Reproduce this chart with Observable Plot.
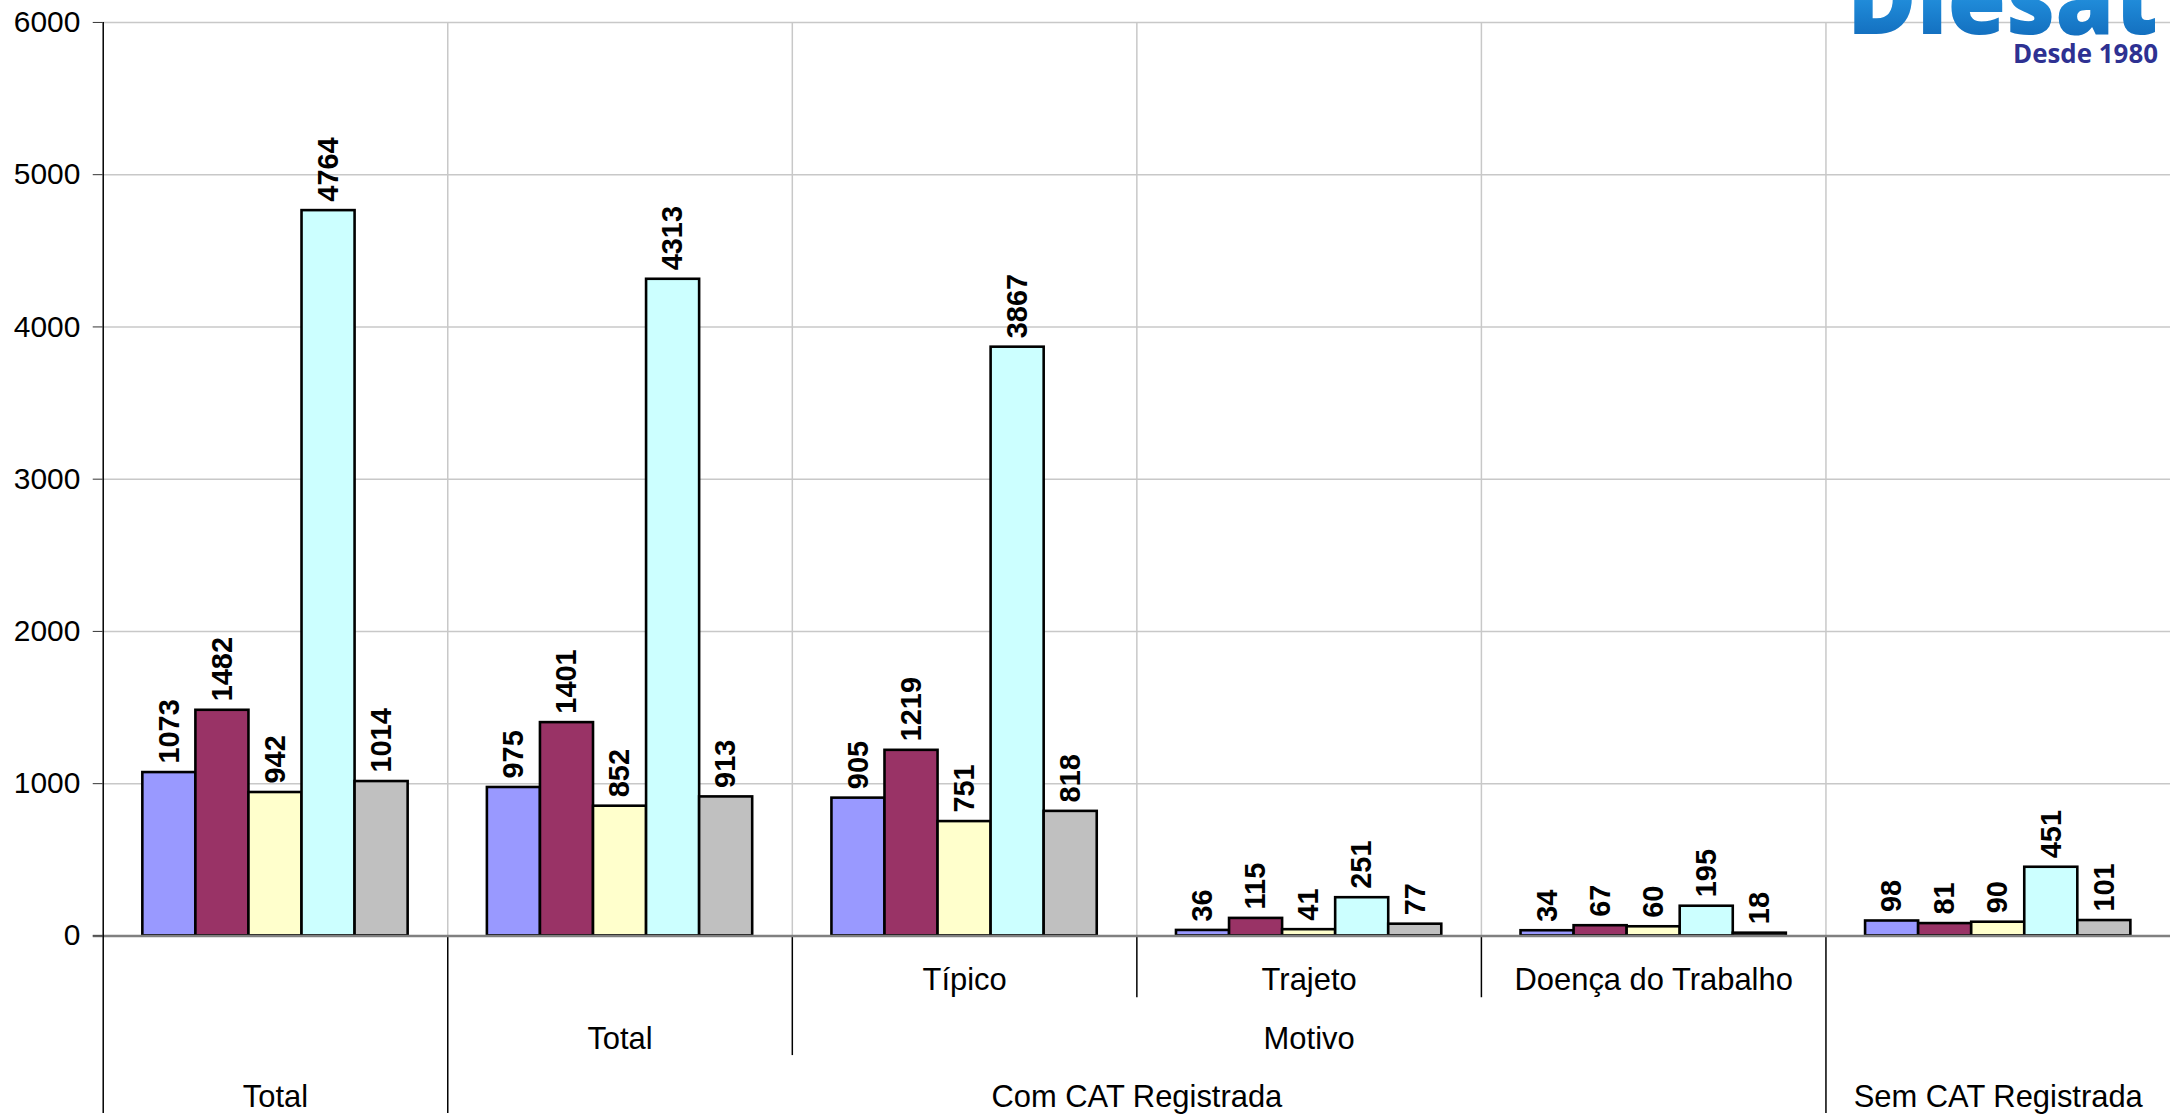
<!DOCTYPE html>
<html>
<head>
<meta charset="utf-8">
<script src="https://cdn.jsdelivr.net/npm/d3@7"></script>
<script src="https://cdn.jsdelivr.net/npm/@observablehq/plot@0.6"></script>
<style>
html, body { margin: 0; padding: 0; background: #fff; overflow: hidden; }
#wrap { position: relative; width: 2170px; height: 1116px; overflow: hidden; background: #fff; }
#logo { position: absolute; left: 0; top: 0; pointer-events: none; }
</style>
</head>
<body>
<div id="wrap"></div>
<script>
// ---------- data ----------
const groups = ["Total", "Com CAT Total", "Típico", "Trajeto", "Doença do Trabalho", "Sem CAT Registrada"];
const series = ["S1", "S2", "S3", "S4", "S5"];
const seriesColors = ["#9999FF", "#993366", "#FFFFCC", "#CCFFFF", "#C0C0C0"];
const valuesS1 = [1073, 975, 905, 36, 34, 98];
const valuesS2 = [1482, 1401, 1219, 115, 67, 81];
const valuesS3 = [942, 852, 751, 41, 60, 90];
const valuesS4 = [4764, 4313, 3867, 251, 195, 451];
const valuesS5 = [1014, 913, 818, 77, 18, 101];
// multi-level category axis (one entry per group)
const rowTop = ["", "", "Típico", "Trajeto", "Doença do Trabalho", ""];
const rowMid = ["", "Total", "Motivo", "Motivo", "Motivo", ""];
const rowBottom = ["Total", "Com CAT Registrada", "Com CAT Registrada", "Com CAT Registrada", "Com CAT Registrada", "Sem CAT Registrada"];
const yTicks = [0, 1000, 2000, 3000, 4000, 5000, 6000];

// ---------- layout ----------
const W = 2176, H = 1116, mL = 103, mT = 22, mB = 178, mR = 0;
const rowDy = [44, 103, 162];     // label centre offsets below baseline
const rowEnd = [62, 120, 178];    // separator line ends below baseline
const barFrac = 0.77;
const barW = barFrac / series.length;
const pad = (1 - barFrac) / 2;

const allValues = [valuesS1, valuesS2, valuesS3, valuesS4, valuesS5];
const data = [];
groups.forEach((g, gi) => {
  series.forEach((s, si) => {
    data.push({gi, si, series: s, value: allValues[si][gi]});
  });
});

const rows = [rowTop, rowMid, rowBottom];
function spans(row) {
  const out = [];
  let start = 0;
  for (let i = 1; i <= row.length; i++) {
    if (i === row.length || row[i] !== row[start]) {
      if (row[start]) out.push({label: row[start], x: (start + i) / 2});
      start = i;
    }
  }
  return out;
}
const boundaries = [];
for (let b = 1; b < groups.length; b++) {
  let len = 0;
  for (let r = rows.length - 1; r >= 0; r--) {
    if (rows[r][b - 1] !== rows[r][b]) { len = rowEnd[r]; break; }
  }
  boundaries.push({b, len});
}
const lens = [...new Set(boundaries.map(d => d.len))];

const marks = [
  Plot.gridY(yTicks.filter(v => v > 0), {stroke: "#c8c8c8", strokeOpacity: 1, strokeWidth: 1.5}),
  Plot.ruleX(boundaries, {x: "b", y1: 0, y2: yTicks[yTicks.length - 1], stroke: "#c8c8c8", strokeWidth: 1.5}),
  ...lens.map(len => Plot.ruleX(boundaries.filter(d => d.len === len), {x: "b", y1: 0, y2: 0, stroke: "black", strokeWidth: 1.5, insetBottom: -len})),
  Plot.rectY(data, {
    x1: d => d.gi + pad + d.si * barW,
    x2: d => d.gi + pad + (d.si + 1) * barW,
    y: "value",
    fill: "series",
    stroke: "black",
    strokeWidth: 2.6
  }),
  Plot.ruleY([0], {stroke: "#808080", strokeWidth: 2.5, insetLeft: -10}),
  Plot.ruleX([0], {stroke: "black", strokeWidth: 1.5, insetBottom: -mB}),
  Plot.axisY(yTicks, {tickSize: 10, tickPadding: 13, fontSize: 30, label: null, stroke: "#333", tickFormat: d => String(d)}),
  Plot.text(data, {
    x: d => d.gi + pad + (d.si + 0.5) * barW,
    y: "value",
    text: d => String(d.value),
    rotate: -90,
    textAnchor: "start",
    dy: -9,
    fontSize: 29,
    fontWeight: "bold",
    fill: "black"
  }),
  ...rows.map((row, r) => Plot.text(spans(row), {x: "x", y: 0, dy: rowDy[r], text: "label", fontSize: 31, fill: "black"}))
];

const chart = Plot.plot({
  width: W,
  height: H,
  marginLeft: mL,
  marginRight: mR,
  marginTop: mT,
  marginBottom: mB,
  x: {type: "linear", domain: [0, groups.length], axis: null},
  y: {domain: [0, 6000], axis: null, label: null},
  color: {domain: series, range: seriesColors},
  style: {fontFamily: "'Liberation Sans', Arial, Helvetica, sans-serif", color: "black", background: "white", overflow: "visible"},
  marks
});
document.getElementById("wrap").appendChild(chart);

// logo (text)
const logo = d3.select("#wrap").append("svg").attr("id", "logo").attr("width", 2170).attr("height", 80);
const grad = logo.append("defs").append("linearGradient").attr("id", "lg").attr("x1", 0).attr("y1", 0).attr("x2", 0).attr("y2", 1);
grad.append("stop").attr("offset", "0%").attr("stop-color", "#7cc6f7");
grad.append("stop").attr("offset", "55%").attr("stop-color", "#1f8ad8");
grad.append("stop").attr("offset", "100%").attr("stop-color", "#0a5aab");
logo.append("text").text("Diesat")
  .attr("x", 2158).attr("y", 34).attr("text-anchor", "end")
  .attr("font-family", "'Open Sans', sans-serif").attr("font-weight", 800).attr("font-size", 100)
  .attr("textLength", 311).attr("lengthAdjust", "spacingAndGlyphs")
  .attr("fill", "url(#lg)");
logo.append("text").text("Desde 1980")
  .attr("x", 2158).attr("y", 63).attr("text-anchor", "end")
  .attr("font-family", "'Open Sans', sans-serif").attr("font-weight", "bold").attr("font-size", 27)
  .attr("textLength", 145).attr("lengthAdjust", "spacingAndGlyphs")
  .attr("fill", "#2e3192");
</script>
</body>
</html>
